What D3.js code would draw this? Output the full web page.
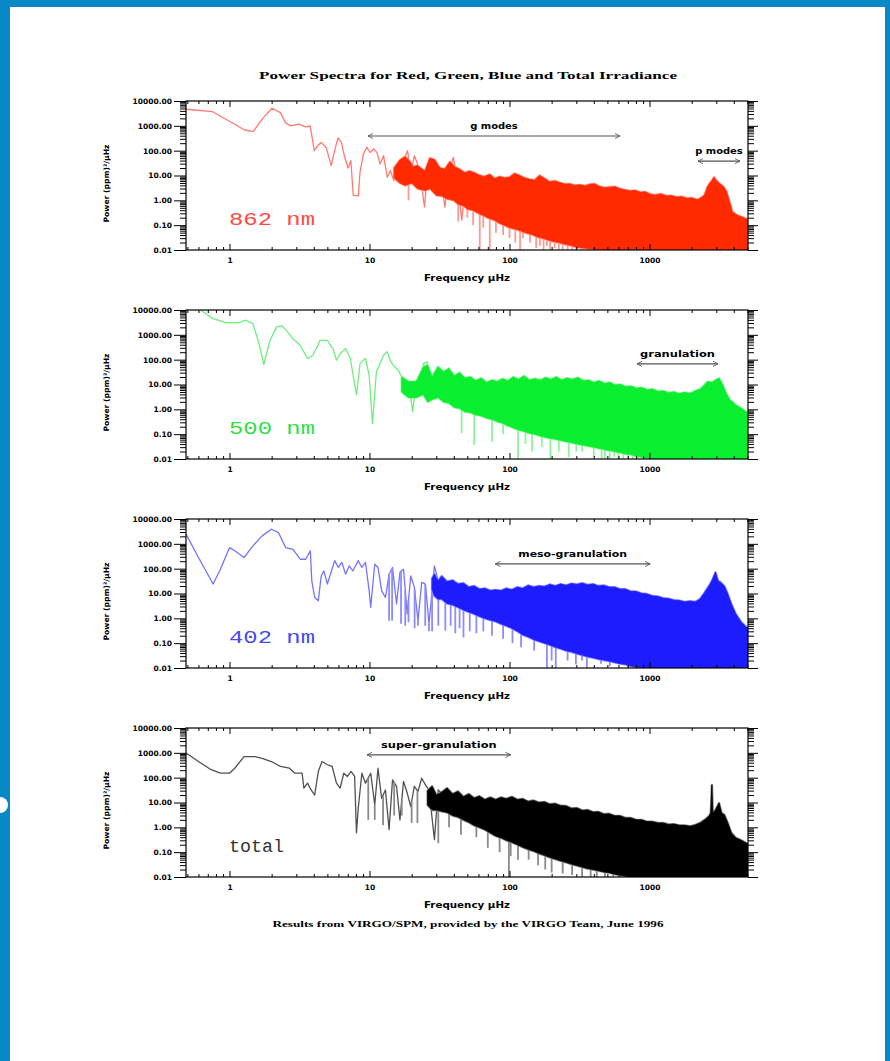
<!DOCTYPE html>
<html><head><meta charset="utf-8">
<script src="https://cdn.jsdelivr.net/npm/d3@7"></script>
<style>body{margin:0;background:#fff;}svg{display:block;}</style>
</head><body>
<svg id="c" width="890" height="1061"></svg>
<script>
// ---------- tick labels ----------
const xTicks = [1, 10, 100, 1000];
const xTickLabels = ["1", "10", "100", "1000"];
const yTicks = [10000, 1000, 100, 10, 1, 0.1, 0.01];
const yTickLabels = ["10000.00", "1000.00", "100.00", "10.00", "1.00", "0.10", "0.01"];
const panelNames = ["862 nm", "500 nm", "402 nm", "total"];

// ---------- 862 nm (red) ----------
const redLineF = [0.489,0.757,1.285,1.476,1.746,2.01,2.31,2.51,2.73,3.13,3.51,3.77,4.03,4.26,4.51,4.90,5.33,5.63,5.96,6.30,6.65,7.03,7.36,7.65,8.33,8.55,9.04,9.57,10.1,10.7,11.3,11.9,12.6,13.4,14.1,14.9,16.2,17.2,18.7,19.7,20.9,22.7,24.7,26.1,28.4,31.7,34.5,37.5,39.6,41.9,45.6,49.5,55.3];
const redLineP = [4650,3700,680,590,2150,5100,3400,1350,1000,1170,910,1000,100,158,215,135,25,100,325,215,54,20,40,1.6,1.5,13.5,74,135,85,117,85,29,63,8.5,16,6.3,12,29,100,12,63,19,0.54,21,6.3,21,0.54,16,54,11.7,0.16,11.7,13.5];
const redHiF = [15,16.5,17.9,19.2,20.5,22,24.9,27,29.2,31.8,34.5,37.6,40.7,44,47.8,52,56.4,61.3,66,72.3,78.5,85,92,100,108.6,118,128,139,151,164,178,194,210,228,248,270,292,320,347,375,405,440,478,520,568,618,672,730,792,860,930,1000,1100,1200,1330,1430,1560,1700,1850,2000,2210,2350,2470,2580,2680,2780,2890,3000,3130,3250,3400,3550,3700,3800,3900,4050,4230,4500,4790,5053];
const redHiP = [20,42,57,40,22,25,15,50,43,20,18,36,22,18,13,15,12.6,10,9,11,7.5,9,8,8.5,12,10,8,7,6.5,10,7.5,5.5,6,5.2,4.5,4.6,4.0,4.2,3.8,4.4,4.6,3.6,3.2,3.4,3.5,2.9,2.6,2.4,2.5,2.1,2.2,1.8,1.6,1.8,1.5,1.55,1.35,1.4,1.2,1.25,1.05,1.3,1.6,3.2,4.7,6,8.5,6.3,5,4.2,3.4,2.2,1.0,0.6,0.34,0.3,0.25,0.22,0.19,0.17];
const redLoF = [15,16.5,18,20,22,25,27,30,33,35,40,43,47,50,55,60,65,70,78,85,92,100,115,130,145,160,180,200,225,250,280,300,340,400,440,480,5053];
const redLoP = [8,5,4,5,3,2.5,3,1.6,1.5,1.2,1.0,0.7,0.6,0.45,0.4,0.3,0.25,0.2,0.16,0.12,0.1,0.08,0.065,0.05,0.042,0.033,0.028,0.023,0.02,0.017,0.015,0.013,0.012,0.011,0.0105,0.01,0.01];
const redSpikeF = [19,43,50,55,61.3,65,72.3,80,90,100,110,119,125,140,155,165,175,185,195,210,225,240,260,280,300,320,330,360,390,420,450];
const redSpikeP = [1.0,0.14,0.2,0.1,0.01,0.08,0.01,0.05,0.04,0.03,0.02,0.01,0.03,0.02,0.012,0.015,0.01,0.015,0.01,0.012,0.01,0.01,0.01,0.01,0.01,0.012,0.01,0.01,0.01,0.01,0.01];

// ---------- 500 nm (green) ----------
const greenLineF = [0.475,0.62,0.764,0.942,1.16,1.31,1.47,1.61,1.76,1.93,2.17,2.38,2.60,2.84,3.20,3.61,3.94,4.44,5.0,5.47,5.81,6.17,6.75,7.29,8.07,8.57,9.37,9.94,10.5,11.2,11.9,12.6,13.4,14.2,15.1,16.0,17.0,18.0,19.1,20.3,21.6,22.9,24.3,25.8,27.4,29.1,30.9,32.8,35];
const greenLineP = [20000,10000,4470,3100,3100,3870,2840,525,64,525,2090,2290,1310,700,380,112,150,600,600,280,95,178,280,112,3.8,71,112,24,0.27,32,71,150,210,81,51,38,20,6.9,13,0.81,13,20,71,81,9.5,32,24,32,10];
const greenHiF = [17,19,21.6,24.3,26,28,30.9,33.8,36.9,40.3,44,48,52.7,57.5,62.8,68.6,74.9,81.8,89.3,97.5,106.5,116,127,139,152,166,181,198,216,236,258,282,308,336,367,400,437,477,521,569,621,678,740,808,882,963,1050,1150,1255,1370,1495,1630,1780,1945,2120,2300,2450,2600,2790,2960,3140,3330,3530,3745,3950,4120,4520,4930,5053];
const greenHiP = [20,13,13,50,60,20,51,32,44,22,30,18,20,14,18,12,15,13,17,14,20,16,22,15,17,15,19,16,20,15,18,16,19,14,15,12,14,11,12,9.5,10,8.1,8.5,7,7.5,6,6.5,5.2,5.5,4.6,5.0,4.2,4.8,4.3,5.5,6.5,9,13,12,15,17.8,9.5,4.4,2.4,1.9,1.5,1.1,0.76,0.75];
const greenLoF = [17,19,21.6,24.3,26,28,30.9,33.8,36.9,40.3,44,48,52.7,57.5,62.8,68.6,74.9,81.8,89.3,97.5,106.5,116,127,139,152,166,181,198,216,236,258,282,308,336,367,400,437,477,521,569,621,678,740,808,882,963,1050,5053];
const greenLoP = [5,3,3,4,2,2.5,3,2,1.8,1.2,1.1,0.8,0.75,0.6,0.55,0.45,0.4,0.32,0.28,0.22,0.18,0.15,0.13,0.11,0.1,0.085,0.075,0.068,0.062,0.055,0.05,0.045,0.04,0.036,0.033,0.03,0.027,0.024,0.022,0.02,0.018,0.016,0.015,0.013,0.012,0.011,0.01,0.01];
const greenSpikeF = [45.5,56,75,90,115,130,145,170,196,225,265,300,330,400,455,480,520,560,600,650,700,760,820,900];
const greenSpikeP = [0.11,0.037,0.05,0.1,0.01,0.04,0.02,0.03,0.01,0.02,0.012,0.02,0.02,0.012,0.01,0.01,0.01,0.012,0.01,0.01,0.01,0.01,0.01,0.01];

// ---------- 402 nm (blue) ----------
const blueLineF = [0.489,0.60,0.764,0.861,1.0,1.09,1.27,1.47,1.71,1.99,2.24,2.52,2.84,3.20,3.50,3.78,3.87,4.06,4.31,4.52,4.72,5.0,5.31,5.64,5.99,6.35,6.75,7.16,7.60,8.31,8.82,9.36,9.94,10.2,10.9,11.5,12.2,13.0,13.8,14.6,15.6,16.5,17.5,18.6,19.7,20.9,22.2,23.6,25.1,26.6,29.1,30.9];
const blueLineP = [2450,282,24,95,700,525,282,830,2090,3870,2820,700,600,240,240,525,32,6.9,5.1,51,81,24,71,210,112,178,60,129,81,210,112,178,13,2.8,151,112,13,6.9,60,112,3.8,71,95,1.5,51,18,0.81,28,24,0.6,130,32];
const blueHiF = [28,29.1,30.9,32.8,35.8,39.2,42.9,46.9,51.2,55.9,61,66.7,72.9,79.6,87,95,104,114,124,136,149,162,178,194,212,232,254,277,303,331,361,395,432,472,515,563,615,672,735,803,877,958,1047,1144,1250,1366,1493,1631,1782,1947,2128,2300,2480,2660,2790,2960,3085,3220,3420,3620,3840,4130,4520,4920,5053];
const blueHiP = [40,60,32,50,30,34,24,26,18,20,15,16,13,14,13,16,14,18,16,21,18,20,19,23,20,24,21,25,23,26,22,24,20,21,18,18,15,15,12,12,10,9.5,8,7.6,6.5,6.2,5.4,5.2,4.6,4.9,4.6,6,11,20,32,71,32,28,20,9.5,3.8,1.5,0.7,0.44,0.42];
const blueLoF = [28,29.1,30.9,32.8,35.8,39.2,42.9,46.9,51.2,55.9,61,66.7,72.9,79.6,87,95,104,114,124,136,149,162,178,194,212,232,254,277,303,331,361,395,432,472,515,563,615,672,735,803,877,958,5053];
const blueLoP = [15,8,6,6,4,3.5,2.8,2.2,1.8,1.5,1.2,1.0,0.85,0.75,0.6,0.5,0.4,0.3,0.22,0.18,0.14,0.12,0.1,0.085,0.07,0.06,0.05,0.045,0.038,0.033,0.029,0.026,0.023,0.021,0.019,0.017,0.015,0.014,0.012,0.011,0.0105,0.01,0.01];
const blueSpikeF = [13.8,14.5,16.8,18,19,21,22.2,25,26.6,28,31,34.8,38,41,44,46.9,52,58,65,75,90,105,121,150,185,200,214,260,298,330,357,450,520,610,700,775,850];
const blueSpikeP = [0.8,0.8,0.6,0.5,0.7,0.4,0.5,0.5,0.3,0.3,0.5,0.32,0.5,0.25,0.4,0.17,0.3,0.25,0.3,0.2,0.15,0.1,0.069,0.05,0.01,0.02,0.01,0.02,0.014,0.02,0.01,0.015,0.012,0.017,0.01,0.01,0.01];

// ---------- total (black) ----------
const totalLineF = [0.474,0.60,0.74,0.86,1.0,1.09,1.27,1.52,1.71,1.99,2.31,2.68,2.93,3.30,3.40,3.61,3.83,4.06,4.31,4.58,5.0,5.41,5.81,6.17,6.55,6.95,7.38,7.83,8.07,8.31,8.82,9.36,10.2,10.9,11.5,12.2,13.0,13.8,14.6,15.6,16.5,17.5,18.6,19.7,20.9,22.2,23.6,25.1,26.6,29.1,30.9,32.8];
const totalLineP = [1120,447,209,151,151,240,700,700,600,447,282,240,151,151,38,60,32,20,178,447,331,282,60,38,151,112,178,112,0.6,6,151,60,151,8.1,240,15,32,0.81,81,45,2.0,71,24,6.9,45,28,95,51,32,0.32,32,24];
const totalHiF = [26,28,30,32.8,35.8,39.2,42.9,46.9,51.2,55.9,61,66.7,72.9,79.6,87,95,104,114,124,136,149,162,178,194,212,232,254,277,303,331,361,395,432,472,515,563,615,672,735,803,877,958,1047,1144,1250,1366,1493,1631,1782,1947,2128,2300,2480,2660,2740,2790,2830,2960,3140,3270,3420,3620,3840,4130,4520,4920,5053];
const totalHiP = [30,45,20,26,38,22,28,17,22,15,18,13,16,13,16,14,17,13,14,11,12,10,10.5,8.5,9,7.4,7.2,5.8,6,4.8,5,4.1,4.2,3.4,3.5,2.9,2.9,2.4,2.4,2.0,2.0,1.7,1.7,1.5,1.5,1.3,1.35,1.2,1.2,1.1,1.25,1.5,2.0,2.8,3.8,51,3.8,5,9.5,3.8,3.2,1.5,0.6,0.38,0.3,0.23,0.22];
const totalLoF = [26,28,30,32.8,35.8,39.2,42.9,46.9,51.2,55.9,61,66.7,72.9,79.6,87,95,104,114,124,136,149,162,178,194,212,232,254,277,303,331,361,395,432,472,515,563,615,672,735,5053];
const totalLoP = [8,5,5,4.4,4,3,2.6,2,1.6,1.2,1.0,0.8,0.6,0.45,0.38,0.3,0.25,0.2,0.16,0.13,0.11,0.09,0.075,0.062,0.053,0.045,0.039,0.033,0.029,0.025,0.022,0.02,0.018,0.016,0.015,0.013,0.012,0.011,0.01,0.01];
const totalSpikeF = [9.8,10.9,12.5,15,17,20,22,31,37,45,58,70,85,99,102,115,137,160,180,200,240,280,330,380,420,480,550,620];
const totalSpikeP = [2,2,1.2,3,3,1.5,1.5,0.23,1,0.5,0.4,0.15,0.1,0.01,0.069,0.05,0.05,0.03,0.02,0.015,0.014,0.012,0.01,0.01,0.01,0.01,0.01,0.01];

// ---------- annotations (data units) ----------
const annPanel = [0, 0, 1, 2, 3];
const annText  = ["g modes", "p modes", "granulation", "meso-granulation", "super-granulation"];
const annF0    = [9.76, 2220, 814, 79, 9.6];
const annF1    = [615, 4430, 3085, 1012, 102];
const annP     = [390, 38, 68, 155, 830];

// ================= drawing =================
const W = 890, H = 1061;
const svg = d3.select("#c");
svg.append("rect").attr("width", W).attr("height", H).attr("fill", "#0888c5");
svg.append("rect").attr("x", 10).attr("y", 7).attr("width", 875).attr("height", H - 7).attr("fill", "#fff");
svg.append("circle").attr("cx", 0).attr("cy", 805).attr("r", 8).attr("fill", "#fff");

const defs = svg.append("defs");
defs.append("marker").attr("id", "ah").attr("viewBox", "0 -5 10 10").attr("refX", 9).attr("refY", 0)
  .attr("markerWidth", 6).attr("markerHeight", 6).attr("markerUnits", "userSpaceOnUse")
  .attr("orient", "auto-start-reverse")
  .append("path").attr("d", "M0,-4.5L9,0L0,4.5").attr("fill", "none").attr("stroke", "#555").attr("stroke-width", 1.4);

const X0 = 186, X1 = 748, PH = 149;
const x = d3.scaleLog().domain([0.489, 5053]).range([X0, X1]);

const FONT = "DejaVu Sans";
const styles = [
  {solid: "#ff2a00", line: "#ff7a72", spike: "#ff9a92", label: "#ff4a40"},
  {solid: "#0aee30", line: "#6fee80", spike: "#90f29c", label: "#2fe045"},
  {solid: "#1c1cff", line: "#7474ff", spike: "#8c8cff", label: "#4848f0"},
  {solid: "#000000", line: "#505050", spike: "#8a8a8a", label: "#333333"}
];
const series = [
  {lf: redLineF, lp: redLineP, hf: redHiF, hp: redHiP, of: redLoF, op: redLoP, sf: redSpikeF, sp: redSpikeP},
  {lf: greenLineF, lp: greenLineP, hf: greenHiF, hp: greenHiP, of: greenLoF, op: greenLoP, sf: greenSpikeF, sp: greenSpikeP},
  {lf: blueLineF, lp: blueLineP, hf: blueHiF, hp: blueHiP, of: blueLoF, op: blueLoP, sf: blueSpikeF, sp: blueSpikeP},
  {lf: totalLineF, lp: totalLineP, hf: totalHiF, hp: totalHiP, of: totalLoF, op: totalLoP, sf: totalSpikeF, sp: totalSpikeP}
];

function interpLL(F, V, f) {
  const i = d3.bisectRight(F, f);
  if (i <= 0) return V[0];
  if (i >= F.length) return V[F.length - 1];
  const t = (Math.log(f) - Math.log(F[i - 1])) / (Math.log(F[i]) - Math.log(F[i - 1]));
  return Math.exp(Math.log(V[i - 1]) + t * (Math.log(V[i]) - Math.log(V[i - 1])));
}

function styleText(sel, size) {
  sel.selectAll("text").attr("font-family", FONT).attr("font-weight", "bold")
    .attr("font-size", size).attr("fill", "#000");
}

series.forEach((s, i) => {
  const top = 101 + 209 * i, bot = top + PH;
  const y = d3.scaleLog().domain([0.01, 10000]).range([bot, top]);
  const yy = v => v <= 0.01 ? bot + 2 : y(v);
  const st = styles[i];
  const g = svg.append("g");

  defs.append("clipPath").attr("id", "clip" + i).append("rect")
    .attr("x", X0).attr("y", top).attr("width", X1 - X0).attr("height", PH);
  const pg = g.append("g").attr("clip-path", `url(#clip${i})`);

  const lineData = s.lf.map((f, k) => [f, s.lp[k]]);
  pg.append("path").datum(lineData)
    .attr("d", d3.line().x(d => x(d[0])).y(d => yy(d[1])))
    .attr("fill", "none").attr("stroke", st.line).attr("stroke-width", 1.3).attr("stroke-linejoin", "round");

  s.sf.forEach((f, k) => {
    const base = f >= s.of[0] ? interpLL(s.of, s.op, f) : interpLL(s.lf, s.lp, f);
    pg.append("line").attr("x1", x(f)).attr("x2", x(f))
      .attr("y1", yy(base)).attr("y2", yy(s.sp[k]))
      .attr("stroke", st.spike).attr("stroke-width", 1.8);
  });

  const poly = s.hf.map((f, k) => [f, s.hp[k]])
    .concat(s.of.map((f, k) => [f, s.op[k]]).reverse());
  const polyD = d3.line().x(d => x(d[0])).y(d => yy(d[1]))(poly) + "Z";
  pg.append("path").attr("d", polyD)
    .attr("fill", "none").attr("stroke", st.spike).attr("stroke-width", 2.4).attr("stroke-linejoin", "round");
  pg.append("path").attr("d", polyD)
    .attr("fill", st.solid).attr("stroke", st.solid).attr("stroke-width", 0.8).attr("stroke-linejoin", "round");

  const yMinor = y.ticks().filter(v => !yTicks.some(t => Math.abs(t - v) / t < 1e-6));
  const xMinor = x.ticks().filter(v => !xTicks.some(t => Math.abs(t - v) / t < 1e-6));

  const la = g.append("g").attr("transform", `translate(${X0},0)`)
    .call(d3.axisLeft(y).tickValues(yMinor).tickSize(6).tickFormat(""));
  la.select(".domain").remove();
  const lb = g.append("g").attr("transform", `translate(${X0},0)`)
    .call(d3.axisLeft(y).tickValues(yTicks).tickSize(12).tickPadding(2).tickFormat((d, k) => yTickLabels[k]));
  lb.select(".domain").remove();
  styleText(lb, 7.5);
  const ra = g.append("g").attr("transform", `translate(${X1},0)`)
    .call(d3.axisRight(y).tickValues(yMinor).tickSize(6).tickFormat(""));
  ra.select(".domain").remove();
  const rb = g.append("g").attr("transform", `translate(${X1},0)`)
    .call(d3.axisRight(y).tickValues(yTicks).tickSize(10).tickFormat(""));
  rb.select(".domain").remove();
  const ba = g.append("g").attr("transform", `translate(0,${bot})`)
    .call(d3.axisBottom(x).tickValues(xMinor).tickSize(-3).tickFormat(""));
  ba.select(".domain").remove();
  const bb = g.append("g").attr("transform", `translate(0,${bot})`)
    .call(d3.axisBottom(x).tickValues(xTicks).tickSize(-6).tickPadding(8).tickFormat((d, k) => xTickLabels[k]));
  bb.select(".domain").remove();
  styleText(bb, 7.5);
  const ta = g.append("g").attr("transform", `translate(0,${top})`)
    .call(d3.axisTop(x).tickValues(xMinor).tickSize(-3).tickFormat(""));
  ta.select(".domain").remove();
  const tb = g.append("g").attr("transform", `translate(0,${top})`)
    .call(d3.axisTop(x).tickValues(xTicks).tickSize(-6).tickFormat(""));
  tb.select(".domain").remove();
  g.selectAll(".tick line").attr("stroke", "#000").attr("stroke-width", 1);

  g.append("rect").attr("x", X0).attr("y", top).attr("width", X1 - X0).attr("height", PH)
    .attr("fill", "none").attr("stroke", "#000").attr("stroke-width", 1.2);

  g.append("text").attr("x", (X0 + X1) / 2).attr("y", bot + 31).attr("text-anchor", "middle")
    .attr("font-family", FONT).attr("font-weight", "bold").attr("font-size", 8)
    .attr("textLength", 86).attr("lengthAdjust", "spacingAndGlyphs").text("Frequency µHz");
  g.append("text").attr("transform", `translate(109,${top + PH / 2 + 8}) rotate(-90)`)
    .attr("text-anchor", "middle").attr("font-family", FONT).attr("font-weight", "bold").attr("font-size", 7.5)
    .attr("textLength", 78).attr("lengthAdjust", "spacingAndGlyphs").text("Power (ppm)²/µHz");

  g.append("text").attr("x", 229).attr("y", top + 124)
    .attr("font-family", "Liberation Mono").attr("font-size", 18).attr("fill", st.label)
    .attr("textLength", i === 3 ? 55 : 86).attr("lengthAdjust", "spacingAndGlyphs").text(panelNames[i]);

  annPanel.forEach((pn, k) => {
    if (pn !== i) return;
    const xa = x(annF0[k]), xb = x(annF1[k]), ya = y(annP[k]);
    g.append("line").attr("x1", xa).attr("x2", xb).attr("y1", ya).attr("y2", ya)
      .attr("stroke", "#555").attr("stroke-width", 1.2)
      .attr("marker-start", "url(#ah)").attr("marker-end", "url(#ah)");
    const w = annText[k].length * 6.8;
    g.append("text").attr("x", (xa + xb) / 2).attr("y", ya - 7).attr("text-anchor", "middle")
      .attr("font-family", FONT).attr("font-weight", "bold").attr("font-size", 8)
      .attr("textLength", w).attr("lengthAdjust", "spacingAndGlyphs").text(annText[k]);
  });
});

svg.append("text").attr("x", 468).attr("y", 79).attr("text-anchor", "middle")
  .attr("font-family", "Liberation Serif").attr("font-weight", "bold").attr("font-size", 10.5)
  .attr("textLength", 418).attr("lengthAdjust", "spacingAndGlyphs")
  .text("Power Spectra for Red, Green, Blue and Total Irradiance");
svg.append("text").attr("x", 468).attr("y", 927).attr("text-anchor", "middle")
  .attr("font-family", "Liberation Serif").attr("font-weight", "bold").attr("font-size", 9)
  .attr("textLength", 391).attr("lengthAdjust", "spacingAndGlyphs")
  .text("Results from VIRGO/SPM, provided by the VIRGO Team, June 1996");
</script>
</body></html>
